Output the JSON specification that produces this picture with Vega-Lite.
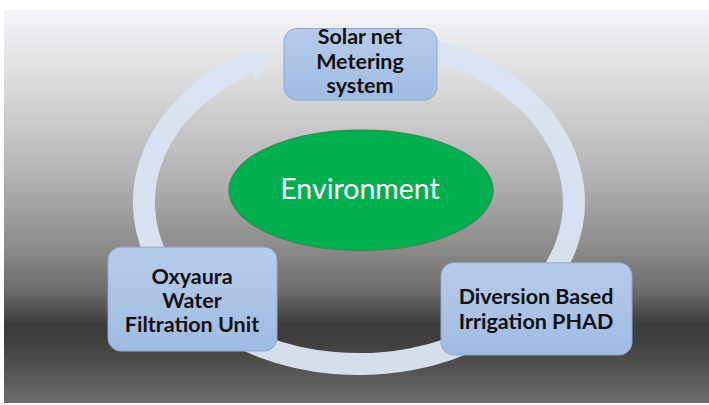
{
  "$schema": "https://vega.github.io/schema/vega-lite/v6.json",
  "width": 709,
  "height": 405,
  "padding": 0,
  "autosize": {"type": "fit", "contains": "padding"},
  "background": "white",
  "config": {"view": {"stroke": null}},
  "layer": [
    {
      "data": {"values": [{"x": 4, "x2": 709, "y": 4, "y2": 405}]},
      "mark": {"type": "rect", "fill": {"gradient": "linear", "x1": 0, "y1": 0, "x2": 0, "y2": 1, "stops": [
        {"offset": 0, "color": "#f4f5f9"},
        {"offset": 0.1, "color": "#e7e7ea"},
        {"offset": 0.25, "color": "#d1d0d1"},
        {"offset": 0.45, "color": "#afadad"},
        {"offset": 0.6, "color": "#8f8d8c"},
        {"offset": 0.72, "color": "#6c6a69"},
        {"offset": 0.8, "color": "#3c3a38"},
        {"offset": 0.85, "color": "#42403e"},
        {"offset": 1, "color": "#6f6d6b"}
      ]}},
      "encoding": {
        "x": {"field": "x", "type": "quantitative", "scale": {"domain": [0, 709], "nice": false, "zero": false}, "axis": null},
        "x2": {"field": "x2"},
        "y": {"field": "y", "type": "quantitative", "scale": {"domain": [405, 0], "nice": false, "zero": false}, "axis": null},
        "y2": {"field": "y2"}
      }
    },
    {
      "data": {"values": [{"x": 359, "y": 200}]},
      "mark": {"type": "point", "shape": "M10,-161.8 A215,162 0 1,1 -110,-139.2", "size": 4, "filled": false, "stroke": "#dae4f2", "strokeWidth": 22, "strokeCap": "butt", "opacity": 0.97},
      "encoding": {
        "x": {"field": "x", "type": "quantitative", "scale": {"domain": [0, 709], "nice": false, "zero": false}, "axis": null},
        "y": {"field": "y", "type": "quantitative", "scale": {"domain": [405, 0], "nice": false, "zero": false}, "axis": null}
      }
    },
    {
      "data": {"values": [{"x": 249, "y": 60.8}]},
      "mark": {"type": "point", "shape": "M0,-18 L24,0 L0,18 Z", "size": 4, "filled": true, "fill": "#dae4f2", "strokeWidth": 0, "angle": -24, "opacity": 0.97},
      "encoding": {
        "x": {"field": "x", "type": "quantitative", "scale": {"domain": [0, 709], "nice": false, "zero": false}, "axis": null},
        "y": {"field": "y", "type": "quantitative", "scale": {"domain": [405, 0], "nice": false, "zero": false}, "axis": null}
      }
    },
    {
      "data": {"values": [{"x": 361, "y": 188}]},
      "mark": {"type": "point", "shape": "M-132,0 A132,60 0 1,1 132,0 A132,60 0 1,1 -132,0 Z", "size": 4, "filled": true, "fill": "#00b050", "stroke": "#2a9452", "strokeWidth": 1.5, "opacity": 1},
      "encoding": {
        "x": {"field": "x", "type": "quantitative", "scale": {"domain": [0, 709], "nice": false, "zero": false}, "axis": null},
        "y": {"field": "y", "type": "quantitative", "scale": {"domain": [405, 0], "nice": false, "zero": false}, "axis": null}
      }
    },
    {
      "data": {"values": [
        {"x": 284, "x2": 437, "y": 23, "y2": 96},
        {"x": 108, "x2": 277, "y": 246, "y2": 352},
        {"x": 441, "x2": 632, "y": 262, "y2": 356}
      ]},
      "mark": {"type": "rect", "cornerRadius": 13, "stroke": "#8eaad3", "strokeWidth": 1, "fill": {"gradient": "linear", "x1": 0, "y1": 0, "x2": 0, "y2": 1, "stops": [
        {"offset": 0, "color": "#b7cceb"},
        {"offset": 1, "color": "#9fbbe3"}
      ]}},
      "encoding": {
        "x": {"field": "x", "type": "quantitative", "scale": {"domain": [0, 709], "nice": false, "zero": false}, "axis": null},
        "x2": {"field": "x2"},
        "y": {"field": "y", "type": "quantitative", "scale": {"domain": [405, 0], "nice": false, "zero": false}, "axis": null},
        "y2": {"field": "y2"}
      }
    },
    {
      "data": {"values": [
        {"x": 360, "y": 33, "label": "Solar net"},
        {"x": 360, "y": 58, "label": "Metering"},
        {"x": 360, "y": 83, "label": "system"},
        {"x": 192, "y": 277, "label": "Oxyaura"},
        {"x": 192, "y": 302, "label": "Water"},
        {"x": 192, "y": 326, "label": "Filtration Unit"},
        {"x": 536, "y": 298, "label": "Diversion Based"},
        {"x": 536, "y": 323, "label": "Irrigation PHAD"}
      ]},
      "mark": {"type": "text", "font": "Lato", "fontWeight": "bold", "fontSize": 21.5, "color": "#111111", "baseline": "middle", "align": "center"},
      "encoding": {
        "x": {"field": "x", "type": "quantitative", "scale": {"domain": [0, 709], "nice": false, "zero": false}, "axis": null},
        "y": {"field": "y", "type": "quantitative", "scale": {"domain": [405, 0], "nice": false, "zero": false}, "axis": null},
        "text": {"field": "label"}
      }
    },
    {
      "data": {"values": [{"x": 360, "y": 188, "label": "Environment"}]},
      "mark": {"type": "text", "font": "Lato", "fontWeight": "normal", "fontSize": 28.5, "color": "#ffffff", "baseline": "middle", "align": "center"},
      "encoding": {
        "x": {"field": "x", "type": "quantitative", "scale": {"domain": [0, 709], "nice": false, "zero": false}, "axis": null},
        "y": {"field": "y", "type": "quantitative", "scale": {"domain": [405, 0], "nice": false, "zero": false}, "axis": null},
        "text": {"field": "label"}
      }
    }
  ]
}
